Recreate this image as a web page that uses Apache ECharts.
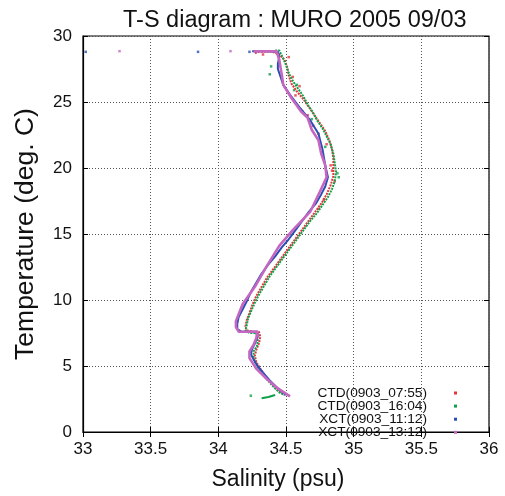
<!DOCTYPE html>
<html>
<head>
<meta charset="utf-8">
<script src="https://cdn.jsdelivr.net/npm/echarts@6/dist/echarts.min.js"></script>
<style>
  html, body { margin: 0; padding: 0; background: #fff; }
  #chart { width: 505px; height: 496px; }
</style>
</head>
<body>
<div id="chart"></div>
<script>
// T-S profiles, [salinity (psu), temperature (deg C)]
const seriesNames = ['CTD(0903_07:55)', 'CTD(0903_16:04)', 'XCT(0903_11:12)', 'XCT(0903_13:12)'];
const seriesColors = ['#e8333b', '#0fa14a', '#2a4fb4', '#c566c0'];

const ctd0755 = [
  [34.27,28.7],[34.30,28.8],[34.34,28.8],[34.40,28.8],[34.45,28.6],[34.49,28.2],[34.51,27.6],[34.52,27.0],
  [34.54,26.4],[34.58,25.8],[34.63,25.2],[34.67,24.6],[34.71,24.0],[34.75,23.4],[34.79,22.8],[34.82,22.1],
  [34.84,21.4],[34.85,20.7],[34.85,20.0],[34.85,19.4],[34.83,18.7],[34.80,18.0],[34.76,17.3],[34.71,16.6],
  [34.66,15.9],[34.61,15.2],[34.56,14.5],[34.51,13.8],[34.46,13.1],[34.41,12.4],[34.36,11.7],[34.32,11.0],
  [34.28,10.3],[34.25,9.6],[34.23,9.0],[34.21,8.5],[34.20,8.0],[34.21,7.7],[34.26,7.6],[34.30,7.6],
  [34.31,7.2],[34.30,6.7],[34.28,6.2],[34.27,5.8],[34.28,5.3],[34.31,4.8],[34.35,4.2],[34.40,3.6],
  [34.45,3.1],[34.49,2.8]
];
const ctd0755Extra = [
  [34.52,28.4],[34.55,26.9],[34.60,26.2],[34.57,25.5],[34.66,24.0],[34.70,23.2],[34.74,22.6],[34.80,21.8],
  [34.83,20.2],[34.86,19.0],[34.84,19.8],[34.78,17.6],[34.74,16.9],[34.33,28.6]
];

const ctd1604 = [
  [34.42,28.9],[34.45,28.9],[34.47,28.5],[34.50,27.8],[34.52,27.2],[34.55,26.6],[34.59,26.0],[34.63,25.4],
  [34.66,24.8],[34.70,24.2],[34.73,23.6],[34.77,23.0],[34.80,22.4],[34.83,21.8],[34.85,21.1],[34.86,20.4],
  [34.87,19.7],[34.86,19.0],[34.84,18.4],[34.81,17.8],[34.77,17.2],[34.73,16.6],[34.68,16.0],[34.63,15.3],
  [34.58,14.6],[34.53,13.9],[34.48,13.2],[34.43,12.5],[34.38,11.8],[34.34,11.1],[34.30,10.4],[34.27,9.8],
  [34.24,9.1],[34.22,8.6],[34.21,8.1],[34.20,7.7],[34.23,7.5],[34.28,7.5],[34.29,7.1],[34.29,6.6],
  [34.26,6.1],[34.26,5.6],[34.28,5.1],[34.31,4.6],[34.35,4.1],[34.40,3.5],[34.45,3.0],[34.49,2.8]
];
const ctd1604Extra = [
  [34.39,27.7],[34.38,27.1],[34.56,25.9],[34.58,26.3],[34.62,24.3],[34.69,23.7],[34.79,21.6],[34.88,19.6],
  [34.89,19.3],[34.24,2.75]
];
const ctd1604Tail = [[34.32,2.55],[34.37,2.65],[34.42,2.8]];

const xct1112 = [
  [34.25,28.85],[34.30,28.85],[34.38,28.85],[34.44,28.8],[34.45,28.4],[34.44,27.9],[34.44,27.5],[34.48,26.3],
  [34.53,25.55],[34.60,24.6],[34.68,23.6],[34.74,22.6],[34.77,21.4],[34.79,20.2],[34.81,19.3],[34.79,18.6],
  [34.76,18.0],[34.72,17.3],[34.67,16.7],[34.62,16.0],[34.57,15.3],[34.52,14.6],[34.47,14.0],[34.42,13.3],
  [34.37,12.7],[34.32,12.0],[34.28,11.3],[34.24,10.6],[34.21,9.9],[34.18,9.3],[34.15,8.7],[34.14,8.2],
  [34.14,7.8],[34.17,7.6],[34.23,7.6],[34.29,7.6],[34.29,7.2],[34.27,6.7],[34.25,6.3],[34.24,5.9],
  [34.26,5.5],[34.29,5.0],[34.33,4.5],[34.38,3.9],[34.44,3.3],[34.50,2.8]
];
const xct1112Top = [[33.02,28.8],[33.85,28.8],[34.23,28.8]];

const xct1312 = [
  [34.26,28.85],[34.32,28.85],[34.38,28.85],[34.43,28.85],[34.45,28.2],[34.47,27.0],[34.48,26.3],[34.54,25.3],
  [34.61,24.3],[34.66,23.8],[34.69,22.9],[34.74,22.1],[34.76,21.1],[34.79,20.2],[34.80,19.3],[34.75,18.2],
  [34.68,16.7],[34.55,15.3],[34.45,14.1],[34.36,12.6],[34.27,11.0],[34.18,9.7],[34.13,8.4],[34.13,7.95],
  [34.15,7.6],[34.29,7.6],[34.28,7.1],[34.26,6.6],[34.23,6.1],[34.23,5.6],[34.28,4.8],[34.36,4.0],
  [34.44,3.3],[34.53,2.7]
];
const xct1312Top = [[33.27,28.85],[34.09,28.85]];

const xTicks = [33, 33.5, 34, 34.5, 35, 35.5, 36];
const yTicks = [0, 5, 10, 15, 20, 25, 30];

const font = 'Liberation Sans, Arial, Helvetica, sans-serif';
const chart = echarts.init(document.getElementById('chart'));

function profile(name, color, data, width, type) {
  return {
    name: name, type: 'line', data: data, xAxisIndex: 0, yAxisIndex: 0,
    showSymbol: false, silent: true, animation: false,
    lineStyle: { color: color, width: width, type: type || 'solid' },
    itemStyle: { color: color }
  };
}
function dots(name, color, data, size) {
  return {
    name: name, type: 'scatter', data: data, xAxisIndex: 0, yAxisIndex: 0,
    symbol: 'rect', symbolSize: size, silent: true, animation: false,
    itemStyle: { color: color }
  };
}

chart.setOption({
  animation: false,
  title: {
    text: 'T-S diagram : MURO 2005 09/03',
    left: 118, top: 4,
    textStyle: { fontFamily: font, fontSize: 23.5, fontWeight: 'normal', color: '#111' }
  },
  grid: {
    left: 83, right: 16, top: 36, bottom: 51,
    show: true, borderColor: '#000', borderWidth: 1.2, backgroundColor: 'transparent'
  },
  legend: {
    orient: 'vertical', right: 43, top: 381,
    align: 'right', itemGap: -0.9, itemWidth: 3, itemHeight: 3, icon: 'rect',
    data: seriesNames,
    textStyle: { fontFamily: font, fontSize: 13.7, color: '#111', width: 112, align: 'right', padding: [0, 22, 0, 0] },
    selectedMode: false
  },
  xAxis: [{
    type: 'value', min: 33, max: 36, interval: 0.5,
    name: 'Salinity (psu)', nameLocation: 'middle', nameGap: 36,
    nameTextStyle: { fontFamily: font, fontSize: 23, color: '#111', padding: [0, 16, 0, 0] },
    axisLine: { show: true, onZero: false, lineStyle: { color: '#000', width: 1.2 } },
    axisTick: { show: true, inside: true, length: 5, lineStyle: { color: '#000' } },
    axisLabel: { fontFamily: font, fontSize: 17, color: '#111', margin: 9,
      formatter: v => xTicks.includes(v) ? String(v) : '' },
    splitLine: { show: true, lineStyle: { color: '#555', type: [1, 2], width: 1 } }
  }, {
    type: 'value', min: 33, max: 36, interval: 0.5, position: 'top',
    axisLine: { show: false }, axisLabel: { show: false }, splitLine: { show: false },
    axisTick: { show: true, inside: true, length: 5, lineStyle: { color: '#000' } }
  }],
  yAxis: [{
    type: 'value', min: 0, max: 30, interval: 5,
    name: 'Temperature (deg. C)', nameLocation: 'middle', nameGap: 44,
    nameTextStyle: { fontFamily: font, fontSize: 26.5, color: '#111' },
    axisLine: { show: true, onZero: false, lineStyle: { color: '#000', width: 1.2 } },
    axisTick: { show: true, inside: true, length: 5, lineStyle: { color: '#000' } },
    axisLabel: { fontFamily: font, fontSize: 17, color: '#111', margin: 11,
      formatter: v => yTicks.includes(v) ? String(v) : '' },
    splitLine: { show: true, lineStyle: { color: '#555', type: [1, 2], width: 1 } }
  }, {
    type: 'value', min: 0, max: 30, interval: 5, position: 'right',
    axisLine: { show: false }, axisLabel: { show: false }, splitLine: { show: false },
    axisTick: { show: true, inside: true, length: 5, lineStyle: { color: '#000' } }
  }],
  series: [
    profile(seriesNames[0], seriesColors[0], ctd0755, 2, [2, 1]),
    dots(seriesNames[0], seriesColors[0], ctd0755Extra, 2.5),
    profile(seriesNames[1], seriesColors[1], ctd1604, 2, [2, 1]),
    dots(seriesNames[1], seriesColors[1], ctd1604Extra, 2.5),
    profile(seriesNames[1], seriesColors[1], ctd1604Tail, 2),
    profile(seriesNames[2], seriesColors[2], xct1112, 2),
    dots(seriesNames[2], seriesColors[2], xct1112Top, 2.5),
    profile(seriesNames[3], seriesColors[3], xct1312, 2.6),
    dots(seriesNames[3], seriesColors[3], xct1312Top, 2.5)
  ]
});
</script>
</body>
</html>
